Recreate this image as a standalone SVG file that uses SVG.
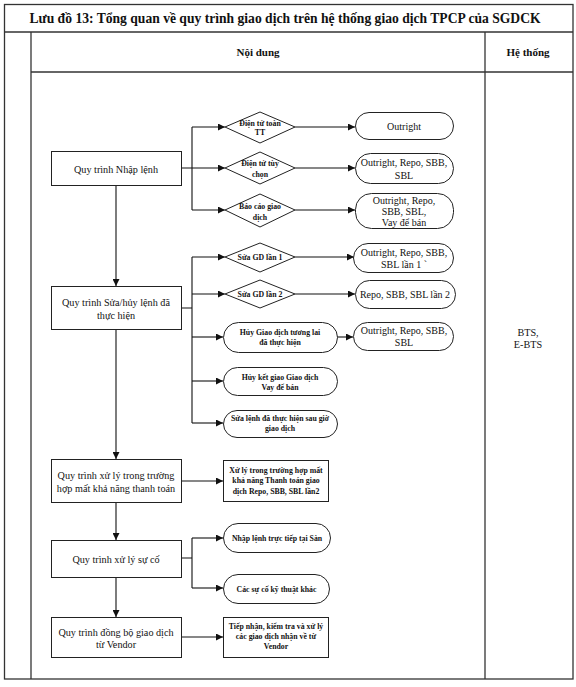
<svg xmlns="http://www.w3.org/2000/svg" width="576" height="687" viewBox="0 0 576 687">
<defs>
<marker id="ah" viewBox="0 0 10 10" refX="10" refY="5" markerWidth="7" markerHeight="7" markerUnits="userSpaceOnUse" orient="auto">
<path d="M0,0 L10,5 L0,10 z" fill="#111"/>
</marker>
<style>
text{font-family:"Liberation Serif","Times New Roman",serif;fill:#111;text-anchor:middle;dominant-baseline:central}
.frame{fill:none;stroke:#333;stroke-width:1.3}
.box{fill:#fff;stroke:#222;stroke-width:1}
.ln{fill:none;stroke:#111;stroke-width:1.1}
.ar{fill:none;stroke:#111;stroke-width:1.1;marker-end:url(#ah)}
.t{font-size:10.2px}
.r{font-size:10px}
.b{font-size:7.8px;font-weight:bold}
.h{font-size:11px;font-weight:bold}
</style>
</defs>
<rect width="576" height="687" fill="#fff"/>
<g id="frame">
<rect class="frame" x="4.5" y="4.5" width="568.5" height="674.5"/>
<line class="frame" x1="4.5" y1="32" x2="573" y2="32"/>
<line class="frame" x1="31" y1="72" x2="573" y2="72"/>
<line class="frame" x1="31" y1="32" x2="31" y2="679"/>
<line class="frame" x1="485" y1="32" x2="485" y2="679"/>
<text x="285" y="18" style="font-size:13.6px;font-weight:bold">Lưu đồ 13: Tổng quan về quy trình giao dịch trên hệ thống giao dịch TPCP của SGDCK</text>
<text class="h" x="258" y="52">Nội dung</text>
<text class="h" x="528" y="52">Hệ thống</text>
<text class="t" x="528" y="332">BTS,</text>
<text class="t" x="528" y="344">E-BTS</text>
</g>
<g id="connectors">
<path class="ar" d="M116,185 V286"/>
<path class="ar" d="M116,329 V459"/>
<path class="ar" d="M116,502 V540"/>
<path class="ar" d="M116,577 V617"/>
<path class="ln" d="M181,168 H192 M192,127 V210"/>
<path class="ar" d="M192,127 H225"/>
<path class="ar" d="M192,168 H225"/>
<path class="ar" d="M192,210 H225"/>
<path class="ar" d="M295,127 H355"/>
<path class="ar" d="M295,168 H355"/>
<path class="ar" d="M295,210 H355"/>
<path class="ln" d="M181,308 H192 M192,257 V423"/>
<path class="ar" d="M192,257 H225"/>
<path class="ar" d="M192,294 H225"/>
<path class="ar" d="M192,337 H223"/>
<path class="ar" d="M192,381 H223"/>
<path class="ar" d="M192,423 H223"/>
<path class="ar" d="M295,257 H354"/>
<path class="ar" d="M295,294 H355"/>
<path class="ar" d="M337,337 H353"/>
<path class="ar" d="M181,481 H223"/>
<path class="ln" d="M181,558 H192 M192,538 V588"/>
<path class="ar" d="M192,538 H223"/>
<path class="ar" d="M192,588 H223"/>
<path class="ar" d="M181,637 H223"/>
</g>
<g id="p1">
<rect class="box" x="51.5" y="151.5" width="130" height="34"/>
<text class="t" x="116" y="169">Quy trình Nhập lệnh</text>
</g>
<g id="p2">
<rect class="box" x="51.5" y="286.5" width="130" height="43"/>
<text class="t" x="116" y="302">Quy trình Sửa/hủy lệnh đã</text>
<text class="t" x="116" y="315">thực hiện</text>
</g>
<g id="p3">
<rect class="box" x="51.5" y="459.5" width="130" height="43"/>
<text class="t" x="116" y="475">Quy trình xử lý trong trường</text>
<text class="t" x="116" y="488">hợp mất khả năng thanh toán</text>
</g>
<g id="p4">
<rect class="box" x="51.5" y="540.5" width="130" height="37"/>
<text class="t" x="116" y="559">Quy trình xử lý sự cố</text>
</g>
<g id="p5">
<rect class="box" x="51.5" y="617.5" width="130" height="40"/>
<text class="t" x="116" y="632">Quy trình đồng bộ giao dịch</text>
<text class="t" x="116" y="644">từ Vendor</text>
</g>
<g id="d1">
<polygon class="box" points="225,127 260,112 295,127 260,143"/>
<text class="b" x="260" y="123">Điện tử toàn</text>
<text class="b" x="260" y="132">TT</text>
</g>
<g id="d2">
<polygon class="box" points="225,168 260,152 295,168 260,184"/>
<text class="b" x="260" y="163">Điện tử tùy</text>
<text class="b" x="260" y="174">chọn</text>
</g>
<g id="d3">
<polygon class="box" points="225,210 260,194 295,210 260,227"/>
<text class="b" x="260" y="206">Báo cáo giao</text>
<text class="b" x="260" y="217">dịch</text>
</g>
<g id="r1">
<rect class="box" x="355.5" y="112.5" width="98" height="27" rx="13.5"/>
<text class="r" x="404" y="126">Outright</text>
</g>
<g id="r2">
<rect class="box" x="355.5" y="153.5" width="98" height="30" rx="15"/>
<text class="r" x="404" y="162">Outright, Repo, SBB,</text>
<text class="r" x="404" y="175">SBL</text>
</g>
<g id="r3">
<rect class="box" x="355.5" y="193.5" width="98" height="35" rx="16"/>
<text class="r" x="404" y="200">Outright, Repo,</text>
<text class="r" x="404" y="211">SBB, SBL,</text>
<text class="r" x="404" y="222">Vay để bán</text>
</g>
<g id="d4">
<polygon class="box" points="225,257 260,243 295,257 260,272"/>
<text class="b" x="260" y="257">Sửa GD lần 1</text>
</g>
<g id="d5">
<polygon class="box" points="225,294 260,280 295,294 260,308"/>
<text class="b" x="260" y="294">Sửa GD lần 2</text>
</g>
<g id="r4">
<rect class="box" x="353.5" y="243.5" width="100" height="29" rx="14.5"/>
<text class="r" x="404" y="252">Outright, Repo, SBB,</text>
<text class="r" x="404" y="264">SBL lần 1 `</text>
</g>
<g id="r5">
<rect class="box" x="355.5" y="280.5" width="100" height="28" rx="14"/>
<text class="r" x="405" y="294.5">Repo, SBB, SBL lần 2</text>
</g>
<g id="r6">
<rect class="box" x="353.5" y="322.5" width="100" height="28" rx="14"/>
<text class="r" x="404" y="330">Outright, Repo, SBB,</text>
<text class="r" x="404" y="342">SBL</text>
</g>
<g id="r7">
<rect class="box" x="223.5" y="322.5" width="114" height="30" rx="15"/>
<text class="b" x="280" y="332">Hủy Giao dịch tương lai</text>
<text class="b" x="280" y="342">đã thực hiện</text>
</g>
<g id="r8">
<rect class="box" x="223.5" y="367.5" width="114" height="28" rx="14"/>
<text class="b" x="280" y="377">Hủy kết giao Giao dịch</text>
<text class="b" x="280" y="387">Vay để bán</text>
</g>
<g id="r9">
<rect class="box" x="223.5" y="410.5" width="114" height="27" rx="13.5"/>
<text class="b" x="280" y="418">Sửa lệnh đã thực hiện sau giờ</text>
<text class="b" x="280" y="428">giao dịch</text>
</g>
<g id="s1">
<rect class="box" x="223.5" y="460.5" width="105" height="41"/>
<text class="b" x="276" y="470">Xử lý trong trường hợp mất</text>
<text class="b" x="276" y="480.5">khả năng Thanh toán giao</text>
<text class="b" x="276" y="491">dịch Repo, SBB, SBL lần2</text>
</g>
<g id="r10">
<rect class="box" x="223.5" y="523.5" width="107" height="29" rx="14.5"/>
<text class="b" x="277" y="538">Nhập lệnh trực tiếp tại Sàn</text>
</g>
<g id="r11">
<rect class="box" x="223.5" y="574.5" width="106" height="29" rx="14.5"/>
<text class="b" x="276.5" y="589">Các sự cố kỹ thuật khác</text>
</g>
<g id="s2">
<rect class="box" x="223.5" y="617.5" width="105" height="40"/>
<text class="b" x="276" y="626">Tiếp nhận, kiểm tra và xử lý</text>
<text class="b" x="276" y="636">các giao dịch nhận về từ</text>
<text class="b" x="276" y="646">Vendor</text>
</g>
</svg>
